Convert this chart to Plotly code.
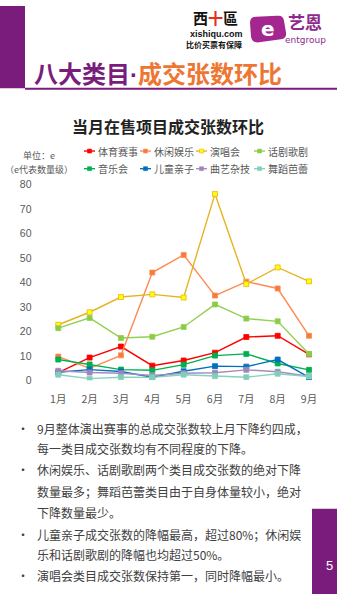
import plotly.graph_objects as go

# ---------------- data ----------------
months = ["1月", "2月", "3月", "4月", "5月", "6月", "7月", "8月", "9月"]
series_names = ["体育赛事", "休闲娱乐", "演唱会", "话剧歌剧", "音乐会", "儿童亲子", "曲艺杂技", "舞蹈芭蕾"]
sports = [3.2, 9.3, 13.8, 6.0, 8.1, 11.3, 17.7, 18.2, 10.6]
leisure = [9.7, 4.9, 10.2, 44.0, 51.2, 34.6, 40.3, 37.5, 18.2]
concert = [22.7, 27.8, 34.0, 35.1, 33.8, 76.1, 39.3, 46.1, 40.4]
drama = [21.3, 25.5, 17.3, 17.8, 21.8, 31.0, 25.2, 24.1, 10.8]
music = [8.5, 6.5, 4.4, 4.1, 6.4, 10.1, 10.8, 6.9, 4.3]
kids = [3.3, 4.4, 3.6, 1.3, 3.7, 5.8, 5.6, 8.5, 1.2]
quyi = [3.9, 3.2, 2.9, 2.0, 2.9, 3.1, 4.3, 3.5, 1.7]
dance = [2.3, 0.7, 1.3, 1.2, 2.3, 1.7, 1.3, 2.7, 1.6]
series_values = [sports, leisure, concert, drama, music, kids, quyi, dance]
y_ticks = [0, 10, 20, 30, 40, 50, 60, 70, 80]

bullets = [
    ["9月整体演出赛事的总成交张数较上月下降约四成，", "每一类目成交张数均有不同程度的下降。"],
    ["休闲娱乐、话剧歌剧两个类目成交张数的绝对下降", "数量最多；舞蹈芭蕾类目由于自身体量较小，绝对", "下降数量最少。"],
    ["儿童亲子成交张数的降幅最高，超过80%；休闲娱", "乐和话剧歌剧的降幅也均超过50%。"],
    ["演唱会类目成交张数保持第一，同时降幅最小。"],
]

# ---------------- style ----------------
W, H = 337, 600
FONT = "Noto Sans CJK SC"
PURPLE = "#7A1C7C"
ORANGE = "#EE7633"
line_colors = ["#FF0000", "#FF8A50", "#E6B422", "#92D050", "#00B050", "#0070C0", "#A58BBF", "#84D3BC"]
marker_fill = ["#FF0000", "#F47B40", "#FFFF00", "#8CCB48", "#00B050", "#0070C0", "#9E84BA", "#7FCFB6"]


def py(y):
    return 1 - y / H


def px(x):
    return x / W


fig = go.Figure()
for name, vals, lc, mf in zip(series_names, series_values, line_colors, marker_fill):
    fig.add_trace(go.Scatter(
        x=months, y=vals, name=name, mode="lines+markers",
        line=dict(color=lc, width=1.4),
        marker=dict(symbol="square", size=5, color=mf, line=dict(color=lc, width=0.8)),
        showlegend=False, hoverinfo="x+y+name",
    ))

shapes = []
annotations = []

# header decorations
shapes.append(dict(type="rect", xref="paper", yref="paper", x0=0, x1=px(25), y0=py(84), y1=1,
                   fillcolor=PURPLE, line=dict(width=0)))
shapes.append(dict(type="rect", xref="paper", yref="paper", x0=px(25), x1=1, y0=py(85.5), y1=py(83.5),
                   fillcolor=PURPLE, line=dict(width=0)))
# page number box
shapes.append(dict(type="rect", xref="paper", yref="paper", x0=px(312), x1=1, y0=0, y1=py(513),
                   fillcolor=PURPLE, line=dict(width=0)))


# entgroup logo blob
def P(x, y):
    return f"{px(x):.5f},{py(y):.5f}"


logo_path = ("M " + P(256, 11) + " Q " + P(250, 11) + " " + P(250, 17) +
             " L " + P(251, 31) + " Q " + P(252, 38) + " " + P(259, 37) +
             " L " + P(281, 34) + " Q " + P(287, 33) + " " + P(286, 27) +
             " L " + P(284, 15) + " Q " + P(283, 9) + " " + P(277, 10) + " Z")
shapes.append(dict(type="path", xref="paper", yref="paper", path=logo_path,
                   fillcolor="#A4268F", line=dict(width=0)))

annotations += [
    dict(text="<b>e</b>", x=px(268), y=py(23), font=dict(family="DejaVu Sans", size=20, color="white")),
    dict(text="<b>艺恩</b>", x=px(305), y=py(16), font=dict(family=FONT, size=17, color="#8E2A8C")),
    dict(text="entgroup", x=px(305), y=py(34.5), font=dict(family="DejaVu Sans", size=9, color="#8E2A8C")),
    dict(text="<b>西<span style='color:#E03020'>十</span>區</b>", x=px(215), y=py(12), font=dict(family="Noto Sans CJK TC", size=15, color="#111111")),
    dict(text="<b>xishiqu.com</b>", x=px(216), y=py(28.5), font=dict(family="Liberation Sans", size=9, color="#111111")),
    dict(text="<b>比价买票有保障</b>", x=px(214), y=py(39.5), font=dict(family=FONT, size=8, color="#111111")),
    dict(text="<b><span style='color:%s'>八大类目</span><span style='color:%s;font-family:Liberation Sans'>·</span><span style='color:%s'>成交张数环比</span></b>" % (PURPLE, PURPLE, ORANGE),
         x=px(32), y=py(68), xanchor="left", font=dict(family=FONT, size=24)),
    dict(text="<b>当月在售项目成交张数环比</b>", x=px(168), y=py(122.5), font=dict(family=FONT, size=16, color="#222222")),
    dict(text="单位：e", x=px(39), y=py(152.5), font=dict(family=FONT, size=9, color="#595959")),
    dict(text="（e代表数量级）", x=px(39), y=py(166.5), font=dict(family=FONT, size=9, color="#595959")),
    dict(text="5", x=px(329), y=py(571), font=dict(family="Liberation Sans", size=13, color="white")),
]
for a in annotations:
    a.setdefault("xref", "paper")
    a.setdefault("yref", "paper")
    a.setdefault("showarrow", False)
    a.setdefault("xanchor", "center")
    a.setdefault("yanchor", "middle")

# legend (2 rows x 4 columns)
leg_cols = [84, 140, 196, 254]
leg_rows = [148, 166]
for i, (name, lc, mf) in enumerate(zip(series_names, line_colors, marker_fill)):
    x0 = leg_cols[i % 4]
    yc = leg_rows[i // 4]
    shapes.append(dict(type="line", xref="paper", yref="paper", x0=px(x0), x1=px(x0 + 11),
                       y0=py(yc), y1=py(yc), line=dict(color=lc, width=1.4)))
    shapes.append(dict(type="rect", xref="paper", yref="paper", x0=px(x0 + 3.5), x1=px(x0 + 7.5),
                       y0=py(yc + 2), y1=py(yc - 2), fillcolor=mf, line=dict(color=lc, width=0.6)))
    annotations.append(dict(text=name, x=px(x0 + 12), y=py(yc), xref="paper", yref="paper",
                            showarrow=False, xanchor="left", yanchor="middle",
                            font=dict(family=FONT, size=10, color="#595959")))

# bullet text
line_y = [431.5, 452, 473, 495, 516.5, 539, 560, 581.5]
k = 0
for b in bullets:
    for j, t in enumerate(b):
        if j == 0:
            annotations.append(dict(text="•", x=px(23), y=py(line_y[k]), xref="paper", yref="paper",
                                    showarrow=False, xanchor="center", yanchor="middle",
                                    font=dict(family=FONT, size=12, color="#404040")))
        annotations.append(dict(text=t, x=px(35), y=py(line_y[k]), xref="paper", yref="paper",
                                showarrow=False, xanchor="left", yanchor="middle",
                                font=dict(family=FONT, size=12, color="#404040")))
        k += 1

fig.update_layout(
    width=W, height=H, autosize=False,
    margin=dict(l=0, r=0, t=0, b=0),
    paper_bgcolor="white", plot_bgcolor="white",
    font=dict(family=FONT, color="#595959"),
    shapes=shapes, annotations=annotations,
    xaxis=dict(domain=[px(42.6), px(324.7)], type="category", range=[-0.5, 8.5],
               showgrid=False, zeroline=False, showline=False,
               ticks="outside", ticklen=9, tickcolor="rgba(0,0,0,0)",
               tickfont=dict(family=FONT, size=10.5, color="#595959")),
    yaxis=dict(domain=[py(382), py(182)], range=[0, 80], tickvals=y_ticks,
               showgrid=False, zeroline=False, showline=False,
               ticks="outside", ticklen=8, tickcolor="rgba(0,0,0,0)",
               tickfont=dict(family="Liberation Sans", size=10.5, color="#595959")),
    showlegend=False,
)

fig.write_html("out.html")
